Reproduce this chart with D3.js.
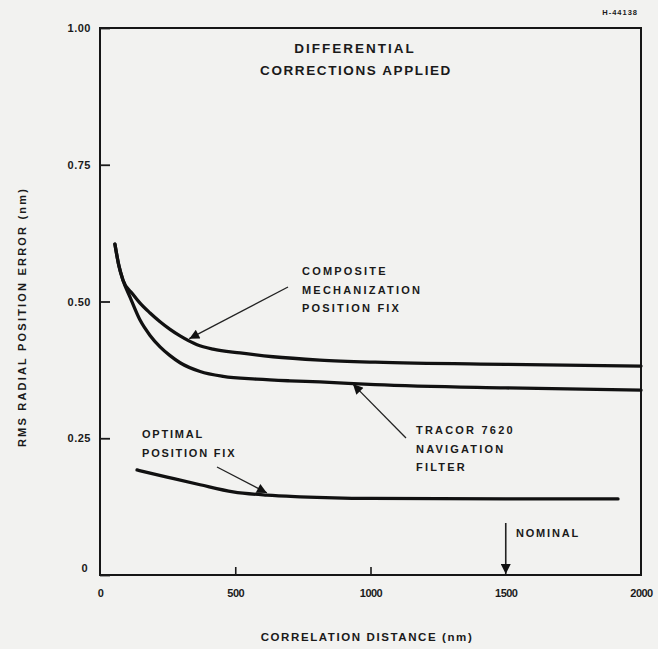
<!DOCTYPE html>
<html>
<head>
<meta charset="utf-8">
<script src="https://cdn.jsdelivr.net/npm/d3@7"></script>
<style>
  html, body { margin: 0; padding: 0; background: #f2f2f0; }
  svg { display: block; }
  text { font-family: "Liberation Sans", Arial, sans-serif; font-weight: bold; fill: #1a1a1a; }
</style>
</head>
<body>
<script>
// ---- data ----
const xTicks = [0, 500, 1000, 1500, 2000];
const yTicks = [0, 0.25, 0.50, 0.75, 1.00];
const yTickLabels = ["0", "0.25", "0.50", "0.75", "1.00"];

const compositeX = [55, 70, 85, 120, 148, 185, 222, 259, 296, 359, 418, 518, 640, 813, 1017, 1500, 2000];
const compositeY = [0.605, 0.565, 0.539, 0.514, 0.497, 0.479, 0.463, 0.449, 0.437, 0.421, 0.413, 0.406, 0.399, 0.393, 0.389, 0.385, 0.382];

const tracorX = [55, 70, 85, 111, 148, 185, 222, 259, 296, 370, 455, 580, 702, 813, 1017, 1500, 2000];
const tracorY = [0.605, 0.565, 0.539, 0.508, 0.466, 0.438, 0.417, 0.401, 0.388, 0.372, 0.363, 0.358, 0.355, 0.353, 0.348, 0.342, 0.338];

const optimalX = [137, 248, 370, 492, 617, 740, 1000, 1500, 1915];
const optimalY = [0.192, 0.179, 0.165, 0.152, 0.146, 0.143, 0.140, 0.139, 0.139];

const nominalX = 1500;

// ---- layout ----
const W = 658, H = 649;
const svg = d3.select("body").append("svg").attr("width", W).attr("height", H);

const x = d3.scaleLinear().domain([0, 2000]).range([100, 641]);
const y = d3.scaleLinear().domain([0, 1]).range([575, 28]);

const defs = svg.append("defs");
defs.append("marker").attr("id", "ah").attr("viewBox", "0 0 10 10")
  .attr("refX", 10).attr("refY", 5).attr("markerWidth", 13).attr("markerHeight", 10)
  .attr("markerUnits", "userSpaceOnUse").attr("orient", "auto")
  .append("path").attr("d", "M0,0 L10,5 L0,10 Z").attr("fill", "#111");

// frame
svg.append("rect").attr("x", x(0)).attr("y", y(1)).attr("width", x(2000) - x(0)).attr("height", y(0) - y(1))
  .attr("fill", "none").attr("stroke", "#161616").attr("stroke-width", 2);

// axes (inward ticks)
const yAxis = d3.axisLeft(y).tickValues(yTicks).tickSize(-10).tickPadding(18)
  .tickFormat((d, i) => yTickLabels[i]);
const gy = svg.append("g").attr("transform", `translate(${x(0)},0)`).call(yAxis);
gy.select(".domain").remove();
gy.selectAll(".tick line").attr("stroke", "#1a1a1a").attr("stroke-width", 1.8);
gy.selectAll(".tick text").style("font-size", "11px").style("letter-spacing", "0.5px")
  .attr("fill", "#1a1a1a").attr("x", -9);
gy.selectAll(".tick").filter(d => d === 0).select("text").attr("dy", "-0.3em").attr("x", -12);

const xAxis = d3.axisBottom(x).tickValues(xTicks).tickSize(-8).tickPadding(14).tickFormat(d3.format("d"));
const gx = svg.append("g").attr("transform", `translate(0,${y(0)})`).call(xAxis);
gx.select(".domain").remove();
gx.selectAll(".tick line").attr("stroke", "#1a1a1a").attr("stroke-width", 1.6)
  .attr("opacity", d => (d === 500 || d === 1000) ? 1 : 0);
gx.selectAll(".tick text").style("font-size", "11px").style("letter-spacing", "-0.5px").attr("fill", "#1a1a1a");

// axis titles
svg.append("text").attr("x", 367).attr("y", 641).attr("text-anchor", "middle")
  .style("font-size", "11.5px").style("letter-spacing", "1.6px").text("CORRELATION DISTANCE (nm)");
svg.append("text").attr("transform", "translate(26,317) rotate(-90)").attr("text-anchor", "middle")
  .style("font-size", "11px").style("letter-spacing", "2.2px").text("RMS RADIAL POSITION ERROR (nm)");

// curves
const line = d3.line().x(d => x(d[0])).y(d => y(d[1])).curve(d3.curveMonotoneX);
function draw(xs, ys) {
  svg.append("path").datum(xs.map((v, i) => [v, ys[i]])).attr("d", line)
    .attr("fill", "none").attr("stroke", "#111").attr("stroke-width", 3.3).attr("stroke-linecap", "round");
}
draw(compositeX, compositeY);
draw(tracorX, tracorY);
draw(optimalX, optimalY);

// title
svg.append("text").attr("x", 355).attr("y", 53).attr("text-anchor", "middle")
  .style("font-size", "13.5px").style("letter-spacing", "2px").text("DIFFERENTIAL");
svg.append("text").attr("x", 356).attr("y", 75).attr("text-anchor", "middle")
  .style("font-size", "13.5px").style("letter-spacing", "1.6px").text("CORRECTIONS APPLIED");

// code number
svg.append("text").attr("x", 638).attr("y", 15).attr("text-anchor", "end")
  .style("font-size", "7.5px").style("letter-spacing", "1px").text("H-44138");

// annotation labels
function label(lines, x0, y0, gap, ls) {
  lines.forEach((t, i) => svg.append("text").attr("x", x0).attr("y", y0 + i * gap)
    .style("font-size", "11px").style("letter-spacing", ls + "px").text(t));
}
label(["COMPOSITE", "MECHANIZATION", "POSITION FIX"], 302, 275, 18.5, 2.2);
label(["TRACOR 7620", "NAVIGATION", "FILTER"], 416, 434, 18.5, 2.2);
label(["OPTIMAL", "POSITION FIX"], 142, 438, 19, 1.8);
svg.append("text").attr("x", 516).attr("y", 537).style("font-size", "11px").style("letter-spacing", "1.8px").text("NOMINAL");

// annotation arrows (anchored on the data curves)
function arrow(x1, y1, dx, dy) {
  svg.append("line").attr("x1", x1).attr("y1", y1).attr("x2", x(dx)).attr("y2", y(dy))
    .attr("stroke", "#222").attr("stroke-width", 1.3).attr("marker-end", "url(#ah)");
}
arrow(288, 287, 330, 0.432);
arrow(406, 438, 935, 0.349);
arrow(217, 467, 617, 0.150);
svg.append("line").attr("x1", x(nominalX)).attr("y1", 523).attr("x2", x(nominalX)).attr("y2", y(0) - 1)
  .attr("stroke", "#222").attr("stroke-width", 1.6).attr("marker-end", "url(#ah)");
</script>
</body>
</html>
